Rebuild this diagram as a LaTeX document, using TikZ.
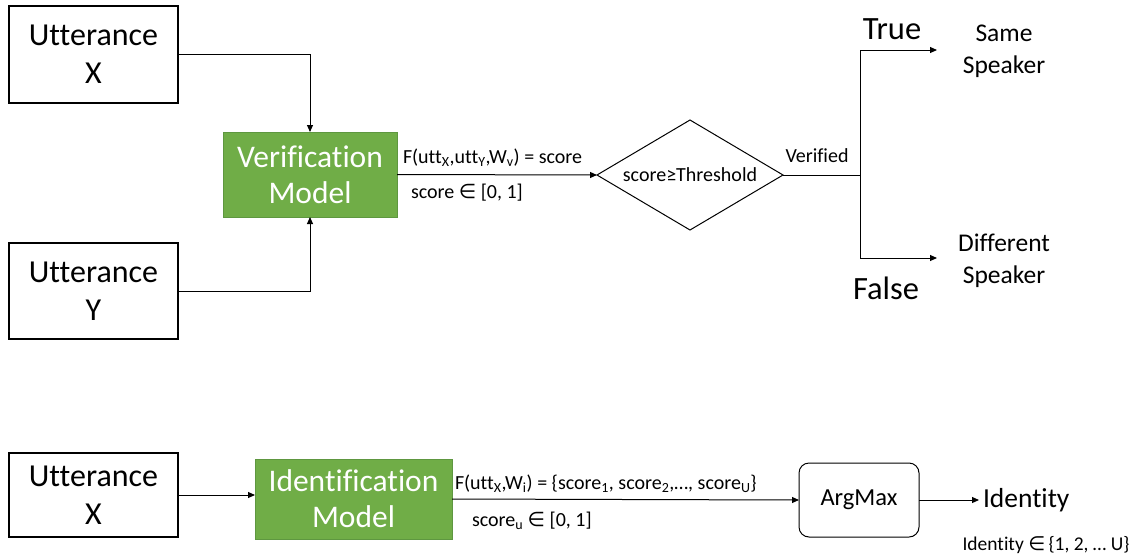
\documentclass[tikz,border=0pt]{standalone}
\usepackage{fontspec}
\setmainfont{Carlito}[Ligatures=NoCommon]
\newfontfamily\symfont{DejaVu Sans}
\usetikzlibrary{arrows.meta,shapes.geometric}
\definecolor{modelgreen}{HTML}{70AD47}
\definecolor{modeledge}{HTML}{5E9740}
\newcommand{\fs}[2]{\fontsize{#1}{#2}\selectfont}
\newcommand{\elem}{{\symfont\char"2208}}
\tikzset{
  x=1pt, y=-1pt,
  every node/.style={inner sep=0pt, outer sep=0pt, align=center},
  uttbox/.style={draw, line width=1.1pt, minimum width=169pt, font=\fs{32}{38}},
  modelbox/.style={fill=modelgreen, draw=modeledge, line width=1pt, text=white, font=\fs{31.5}{36}},
  decision/.style={diamond, draw, line width=1pt, minimum width=186pt, minimum height=110pt, aspect=1.69, font=\fs{20}{24}},
  argbox/.style={draw, line width=1pt, rounded corners=10pt, minimum width=120pt, minimum height=74pt, font=\fs{24.5}{28}},
  lbl/.style={font=\fs{20}{24}},
  outcome/.style={font=\fs{25.5}{32}},
  bigword/.style={font=\fs{32.5}{36}},
  arr/.style={line width=1pt, -{Triangle[length=7pt,width=6pt]}},
  plain/.style={line width=1pt}
}
\begin{document}
\begin{tikzpicture}
\useasboundingbox (0,0) rectangle (1140,555);

% ---- verification pipeline ----
\node[uttbox, minimum height=97pt] (ux) at (93.5,54.5) {Utterance\\X};
\node[uttbox, minimum height=96pt] (uy) at (93.5,291) {Utterance\\Y};
\node[modelbox, minimum width=174pt, minimum height=85pt] (vm) at (310,174.5) {Verification\\Model};
\node[decision] (dm) at (690,175) {score≥Threshold};

\draw[arr] (ux.east) -| (vm.north);
\draw[arr] (uy.east) -| (vm.south);
\draw[arr] (vm.east) -- (dm.west);

\node[lbl, anchor=west] (fv) at (403,158) {F(utt\textsubscript{X},utt\textsubscript{Y},W\textsubscript{v}) = score};
\node[lbl, anchor=west] (rv) at (411,193) {score \elem\ [0, 1]};

\coordinate (split) at (860,175);
\coordinate (tend) at (937,50);
\coordinate (fend) at (937,258);
\draw[plain] (dm.east) -- (split);
\node[lbl] (ver) at (817,156) {Verified};
\draw[arr] (split) |- (tend);
\draw[arr] (split) |- (fend);

\node[bigword] (tru) at (892,29) {True};
\node[bigword] (fal) at (886,288) {False};
\node[outcome] (same) at (1004,51) {Same\\Speaker};
\node[outcome] (diff) at (1004,261) {Different\\Speaker};

% ---- identification pipeline ----
\node[uttbox, minimum height=84pt] (ux2) at (93.5,495) {Utterance\\X};
\node[modelbox, minimum width=197pt, minimum height=80pt] (im) at (353.5,499) {Identification\\Model};
\node[argbox] (am) at (859,500) {ArgMax};

\draw[arr] (ux2.east) -- (ux2.east -| im.west);
\draw[arr] (im.east) -- (am.west);

\node[lbl, anchor=west] (fi) at (455,484) {F(utt\textsubscript{X},W\textsubscript{i}) = \{score\textsubscript{1}, score\textsubscript{2},…, score\textsubscript{U}\}};
\node[lbl, anchor=west] (ri) at (472,521) {score\textsubscript{u} \elem\ [0, 1]};

\node[font=\fs{27.5}{32}, anchor=west, outer sep=4pt] (idt) at (979,500) {Identity};
\draw[arr] (am.east) -- (idt.west);
\node[font=\fs{19.5}{22}] (idr) at (1046,545) {Identity \elem\,\{1, 2, … U\}};
\end{tikzpicture}
\end{document}
